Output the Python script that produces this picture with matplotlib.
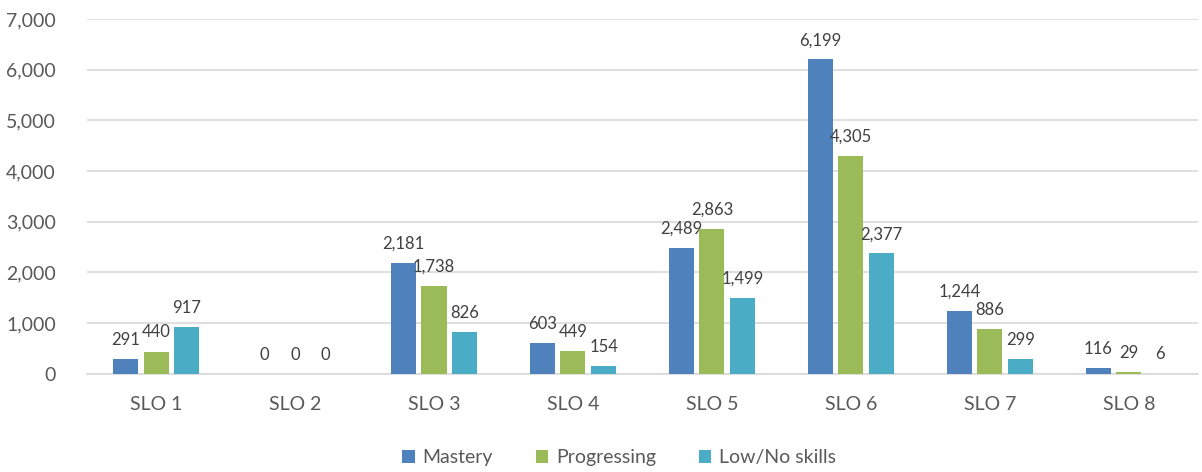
import numpy as np
import matplotlib
matplotlib.use('Agg')
import matplotlib.pyplot as plt

categories = ['SLO 1', 'SLO 2', 'SLO 3', 'SLO 4', 'SLO 5', 'SLO 6', 'SLO 7', 'SLO 8']
mastery = [291, 0, 2181, 603, 2489, 6199, 1244, 116]
progressing = [440, 0, 1738, 449, 2863, 4305, 886, 29]
low_no = [917, 0, 826, 154, 1499, 2377, 299, 6]

series = [
    ('Mastery', mastery, '#4F81BD'),
    ('Progressing', progressing, '#9BBB59'),
    ('Low/No skills', low_no, '#4BACC6'),
]

plt.rcParams['font.family'] = ['Lato', 'DejaVu Sans']
text_color = '#595959'

fig = plt.figure(figsize=(12.02, 4.72), dpi=100)
ax = fig.add_axes([0.072, 0.208, 0.925, 0.752])

x = np.arange(len(categories))
width = 0.18
offsets = [-0.22, 0, 0.22]

for (name, vals, color), off in zip(series, offsets):
    bars = ax.bar(x + off, vals, width, color=color, label=name, zorder=3)
    for b, v in zip(bars, vals):
        ax.annotate(f'{v:,}', (b.get_x() + b.get_width() / 2, v),
                    xytext=(0, 8), textcoords='offset points',
                    ha='center', va='bottom', fontsize=12, color='#404040')

ax.set_xlim(-0.5, len(categories) - 0.5)
ax.set_ylim(0, 7000)
ax.set_yticks(range(0, 7001, 1000))
ax.set_yticklabels([f'{t:,}' for t in range(0, 7001, 1000)])
ax.set_xticks(x)
ax.set_xticklabels(categories)
ax.tick_params(axis='both', length=0, labelsize=14, colors=text_color)
ax.tick_params(axis='y', pad=22)
ax.tick_params(axis='x', pad=16)
ax.grid(axis='y', color='#D9D9D9', linewidth=1.2, zorder=0)
for s in ['top', 'right', 'left']:
    ax.spines[s].set_visible(False)
ax.spines['bottom'].set_color('#D9D9D9')
ax.spines['bottom'].set_linewidth(1.2)

fig.legend(loc='lower center', ncol=3, frameon=False, fontsize=14,
           bbox_to_anchor=(0.515, -0.025), handlelength=0.65, handleheight=0.65,
           columnspacing=2.2, handletextpad=0.4, labelcolor=text_color)

fig.savefig('out.png', dpi=100)
